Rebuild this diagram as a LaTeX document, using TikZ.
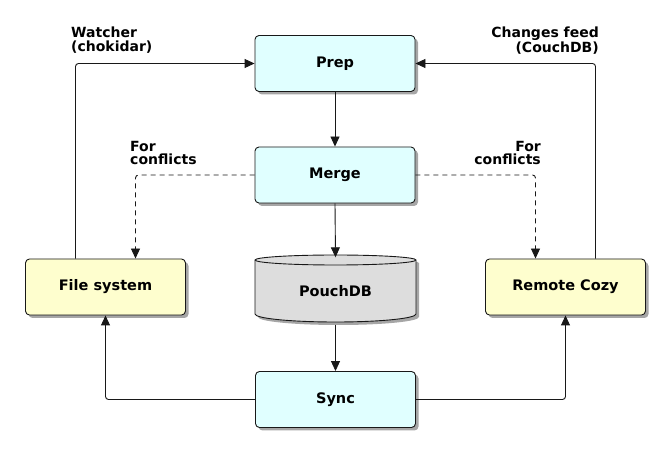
\documentclass[tikz,border=0pt]{standalone}
\usepackage{fontspec}
\setmainfont{DejaVu Sans}
\usetikzlibrary{arrows.meta,shadows}
\definecolor{boxcyan}{HTML}{E0FFFF}
\definecolor{boxyellow}{HTML}{FEFECE}
\definecolor{dbgray}{HTML}{DDDDDD}
\definecolor{edge}{HTML}{181818}
\begin{document}
\begin{tikzpicture}[x=1pt,y=-1pt,
  shade/.style={drop shadow={shadow xshift=3pt,shadow yshift=-3pt,opacity=0.35,fill=black}},
  box/.style={draw=edge,line width=0.9pt,rounded corners=4pt,fill=boxcyan,minimum width=160pt,minimum height=56pt,inner sep=0pt,
    font=\bfseries\fontsize{14.5}{17}\selectfont,shade},
  ybox/.style={box,fill=boxyellow},
  lbl/.style={inner sep=0pt,font=\bfseries\fontsize{14}{13.5}\selectfont},
  conn/.style={draw=edge,line width=0.9pt,rounded corners=3pt,-{Triangle[length=10pt,width=9pt]}},
  dconn/.style={conn,dash pattern=on 5pt off 4pt}]
\useasboundingbox (0,0) rectangle (670,462);
\fill[white] (0,0) rectangle (670,462);
% nodes
\node[box] (prep) at (335,63.5) {Prep};
\node[box] (merge) at (335,175) {Merge};
\node[box] (sync) at (335.5,399.5) {Sync};
\node[ybox] (fs) at (105.5,287) {File system};
\node[ybox] (rc) at (565.5,287) {Remote Cozy};
% database cylinder
\fill[black,opacity=0.35] (258,263) -- (258,317) arc[start angle=180,end angle=0,x radius=80.5,y radius=8] -- (419,263) arc[start angle=0,end angle=-180,x radius=80.5,y radius=5] -- cycle;
\draw[edge,line width=0.9pt,fill=dbgray] (255,260) -- (255,314) arc[start angle=180,end angle=0,x radius=80.5,y radius=8] -- (416,260) arc[start angle=0,end angle=-180,x radius=80.5,y radius=5] -- cycle;
\draw[edge,line width=0.9pt] (255,260) arc[start angle=180,end angle=0,x radius=80.5,y radius=5];
\node[inner sep=0pt,minimum width=161pt,minimum height=67pt,font=\bfseries\fontsize{14.5}{17}\selectfont] (pouch) at (335.5,291) {PouchDB};
% labels
\node[lbl,anchor=north west,align=left] (lw) at (71,27) {Watcher\\(chokidar)};
\node[lbl,anchor=north east,align=right] (lc) at (599,27) {Changes feed\\(CouchDB)};
\node[lbl,anchor=north west,align=left] (lfl) at (130,141) {For\\conflicts};
\node[lbl,anchor=north east,align=right] (lfr) at (541,141) {For\\conflicts};
% connectors
\draw[conn] (prep.south) -- (merge.north);
\draw[conn] (merge.south) -- (pouch.north);
\draw[conn] (pouch.south) -- (sync.north);
\draw[conn] ([xshift=-30pt]fs.north) |- (prep.west);
\draw[conn] ([xshift=30pt]rc.north) |- (prep.east);
\draw[dconn] (merge.west) -| ([xshift=30pt]fs.north);
\draw[dconn] (merge.east) -| ([xshift=-30pt]rc.north);
\draw[conn] (sync.west) -| (fs.south);
\draw[conn] (sync.east) -| (rc.south);
\end{tikzpicture}
\end{document}
